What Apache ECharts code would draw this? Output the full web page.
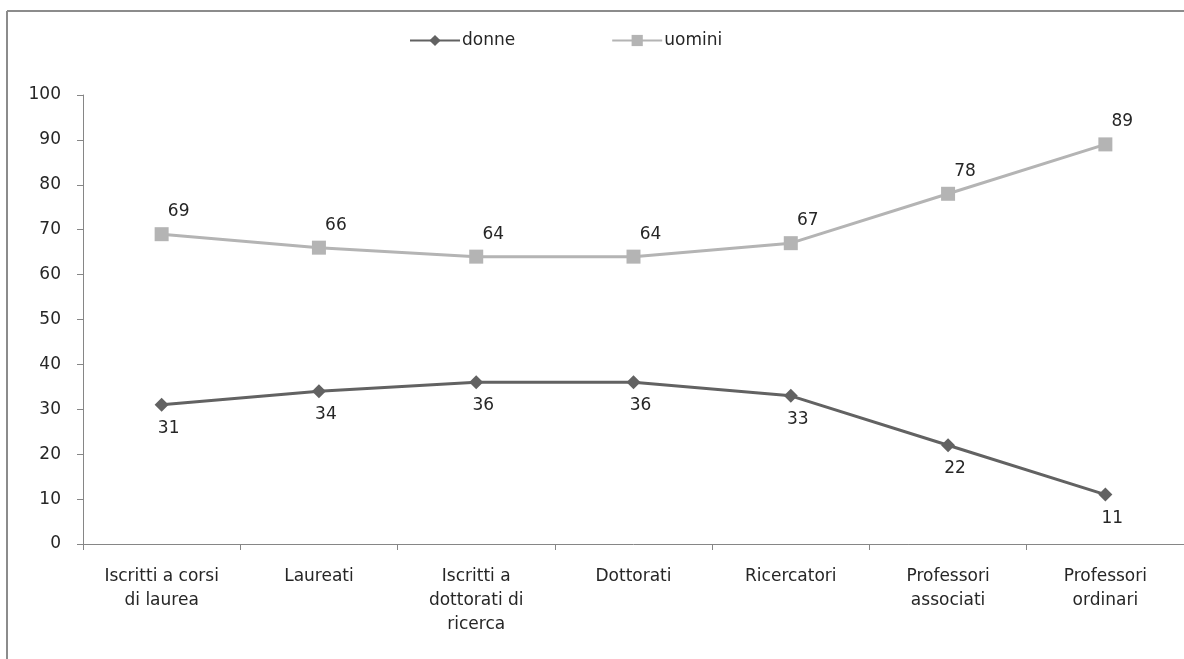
<!DOCTYPE html>
<html>
<head>
<meta charset="utf-8">
<script src="https://cdn.jsdelivr.net/npm/echarts@6/dist/echarts.min.js"></script>
<style>
html,body{margin:0;padding:0;background:#fff;}
#c{width:1184px;height:659px;}
</style>
</head>
<body>
<div id="c"></div>
<script>
const categories = [
  "Iscritti a corsi\ndi laurea",
  "Laureati",
  "Iscritti a\ndottorati di\nricerca",
  "Dottorati",
  "Ricercatori",
  "Professori\nassociati",
  "Professori\nordinari"
];
const donne = [31, 34, 36, 36, 33, 22, 11];
const uomini = [69, 66, 64, 64, 67, 78, 89];
const yTicks = { min: 0, max: 100, interval: 10 };

const font = "DejaVu Sans";
const txt = "#262626";
const axisCol = "#868686";

const chart = echarts.init(document.getElementById('c'));
chart.setOption({
  animation: false,
  backgroundColor: '#ffffff',
  graphic: [
    { type: 'line', shape: { x1: 7, y1: 11, x2: 1184, y2: 11 }, style: { stroke: '#8c8c8c', lineWidth: 2 } },
    { type: 'line', shape: { x1: 7, y1: 11, x2: 7, y2: 659 }, style: { stroke: '#8c8c8c', lineWidth: 2 } }
  ],
  legend: {
    left: 404,
    top: 27,
    itemWidth: 50,
    itemHeight: 14,
    itemGap: 96,
    textStyle: { fontFamily: font, fontSize: 17, color: txt, padding: [0, 0, 0, -3] },
    data: ['donne', 'uomini']
  },
  grid: { left: 83, right: 0, top: 95, bottom: 115 },
  xAxis: {
    type: 'category',
    data: categories,
    boundaryGap: true,
    axisLine: { lineStyle: { color: axisCol, width: 1 } },
    axisTick: { show: true, length: 6, alignWithLabel: false, lineStyle: { color: axisCol } },
    axisLabel: {
      interval: 0,
      margin: 21,
      fontFamily: font,
      fontSize: 17,
      color: txt,
      lineHeight: 24
    },
    splitLine: { show: false }
  },
  yAxis: {
    type: 'value',
    min: yTicks.min,
    max: yTicks.max,
    interval: yTicks.interval,
    axisLine: { show: true, lineStyle: { color: axisCol, width: 1 } },
    axisTick: { show: true, length: 6, lineStyle: { color: axisCol } },
    axisLabel: { margin: 22, fontFamily: font, fontSize: 17, color: txt },
    splitLine: { show: false }
  },
  series: [
    {
      name: 'donne',
      type: 'line',
      data: donne,
      symbol: 'diamond',
      symbolSize: 14,
      lineStyle: { color: '#626262', width: 3 },
      itemStyle: { color: '#626262' },
      label: {
        show: true,
        position: 'bottom',
        offset: [7, 3],
        fontFamily: font,
        fontSize: 17,
        color: txt
      }
    },
    {
      name: 'uomini',
      type: 'line',
      data: uomini,
      symbol: 'rect',
      symbolSize: 14,
      lineStyle: { color: '#b4b4b4', width: 3 },
      itemStyle: { color: '#b4b4b4' },
      label: {
        show: true,
        position: 'top',
        offset: [17, -2],
        fontFamily: font,
        fontSize: 17,
        color: txt
      }
    }
  ]
});
</script>
</body>
</html>
